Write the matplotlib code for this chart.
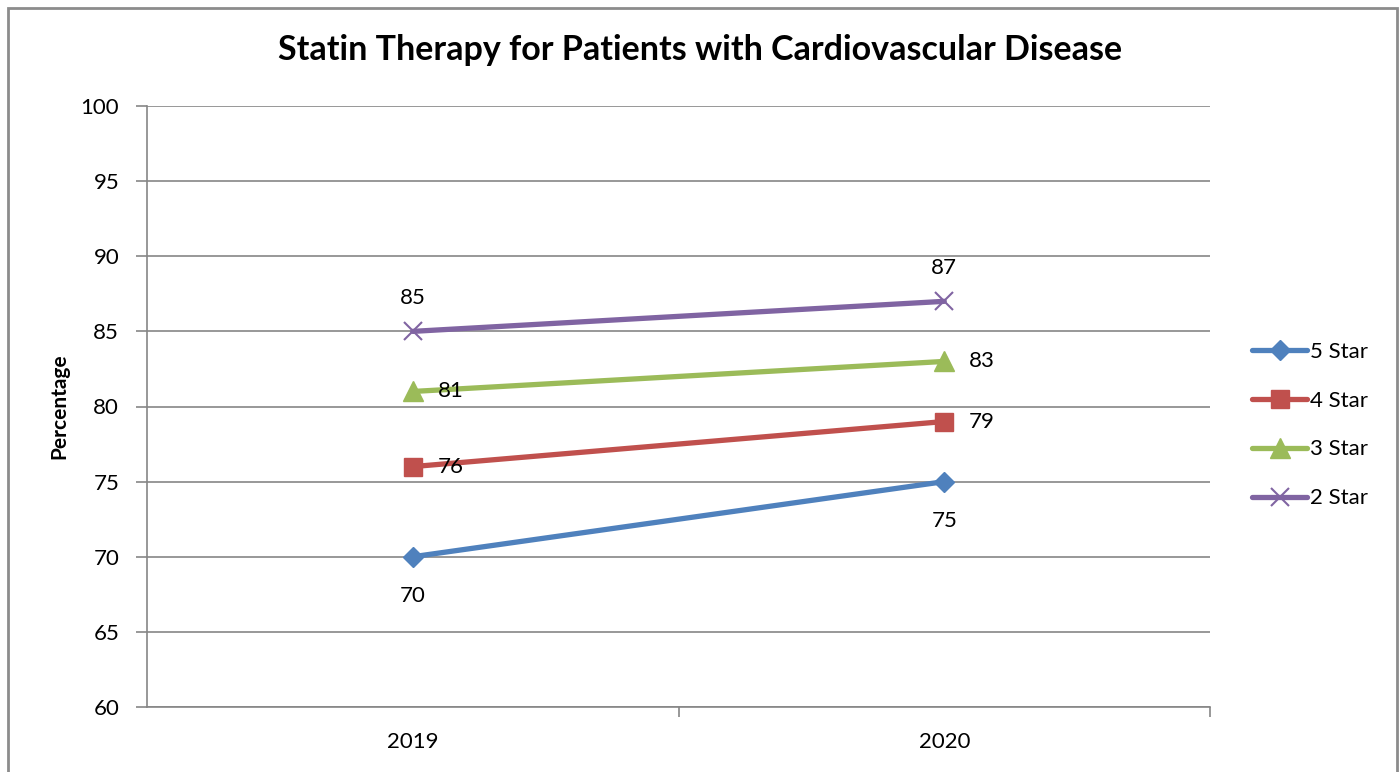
import matplotlib.pyplot as plt
import matplotlib.patches as mpatches

plt.rcParams['font.family'] = ['Lato', 'DejaVu Sans']

years = ['2019', '2020']
series_names = ['5 Star', '4 Star', '3 Star', '2 Star']
values = {
    '5 Star': [70, 75],
    '4 Star': [76, 79],
    '3 Star': [81, 83],
    '2 Star': [85, 87],
}
colors = {'5 Star': '#4F81BD', '4 Star': '#C0504D', '3 Star': '#9BBB59', '2 Star': '#8064A2'}
markers = {'5 Star': 'D', '4 Star': 's', '3 Star': '^', '2 Star': 'x'}
msizes = {'5 Star': 10, '4 Star': 13, '3 Star': 14, '2 Star': 13}
# label placement: (dx pts, dy pts, ha, va)
label_pos = {
    '5 Star': (0, -21, 'center', 'top'),
    '4 Star': (18, 0, 'left', 'center'),
    '3 Star': (18, 0, 'left', 'center'),
    '2 Star': (0, 17, 'center', 'bottom'),
}

W, H = 1400, 772
fig = plt.figure(figsize=(W / 100, H / 100), dpi=100)
ax = fig.add_axes([147 / W, 1 - 707 / H, (1210 - 147) / W, (707 - 106) / H])

# outer chart border
fig.patches.append(mpatches.Rectangle((8 / W, -0.05), (1397 - 8) / W, 1 - 8 / H + 0.05,
                                      transform=fig.transFigure, fill=False,
                                      edgecolor='#8C8C8C', linewidth=2))

x = [1, 2]
for name in series_names:
    mew = 1.5 if markers[name] == 'x' else 1
    ax.plot(x, values[name], color=colors[name], linewidth=3.8, marker=markers[name],
            markersize=msizes[name], markeredgewidth=mew, label=name, solid_capstyle='round')
    dx, dy, ha, va = label_pos[name]
    for xi, v in zip(x, values[name]):
        ax.annotate(str(v), (xi, v), xytext=(dx, dy), textcoords='offset points',
                    ha=ha, va=va, fontsize=16)

ax.set_xlim(0.5, 2.5)
ax.set_ylim(60, 100)
ax.set_yticks(range(60, 101, 5))
ax.set_xticks(x)
ax.set_xticklabels(years)
ax.set_xticks([1.5, 2.5], minor=True)
ax.tick_params(axis='x', which='major', length=0, pad=18, labelsize=16)
ax.tick_params(axis='x', which='minor', length=7, width=1.2, color='#868686', direction='out')
ax.tick_params(axis='y', length=8, width=1.2, color='#868686', direction='out', pad=12, labelsize=16)
ax.grid(axis='y', color='#868686', linewidth=1.2)
ax.set_axisbelow(True)
for side in ['top', 'right']:
    ax.spines[side].set_visible(False)
for side in ['left', 'bottom']:
    ax.spines[side].set_color('#868686')
    ax.spines[side].set_linewidth(1.2)

ax.set_ylabel('Percentage', fontsize=15, fontweight='bold')
ax.yaxis.set_label_coords(-78 / (1210 - 147), 0.5)
fig.text(0.5, 1 - 50 / H, 'Statin Therapy for Patients with Cardiovascular Disease',
         ha='center', va='center', fontsize=24.5, fontweight='bold')

leg = ax.legend(loc='center left', bbox_to_anchor=(1243 / W, 1 - 425 / H),
                bbox_transform=fig.transFigure, frameon=False, fontsize=16,
                handlelength=2.5, handletextpad=0.1, labelspacing=1.3, borderaxespad=0)

fig.savefig('out.png', dpi=100)
